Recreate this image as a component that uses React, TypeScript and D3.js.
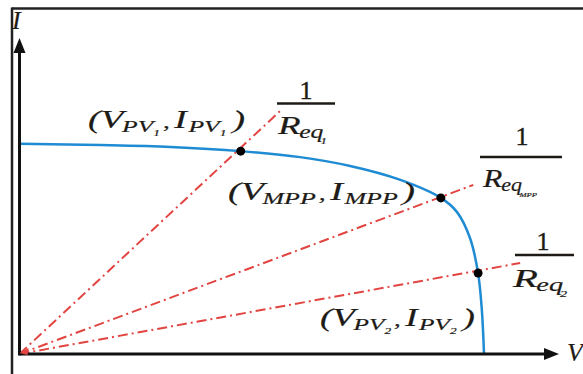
import * as d3 from "d3";

const W = 583;
const H = 374;

// I-V curve of the PV panel (V and I in % of axis length)
const V_CURVE = [0, 15, 28, 41, 52, 61.3, 70.6, 78.1, 81.1, 83.5, 85, 85.7, 86.1];
const I_CURVE = [66.5, 66.1, 65.5, 64.2, 62.3, 59.5, 55.1, 49.4, 44.9, 36.7, 25.6, 13.9, 0];

// operating points (PV1, MPP, PV2)
const V_OP = [41, 78.1, 85];
const I_OP = [64.2, 49.4, 25.6];

// load lines 1/Req, drawn from origin to these ends
const V_LOAD_END = [48.5, 84.1, 92.8];
const I_LOAD_END = [77.2, 53.5, 28.8];

// text run: size, baseline offset, extra space before
type Seg = { t: string; s: number; b?: number; dx?: number };

const FONT = "Liberation Serif, Times New Roman, Times, DejaVu Serif, serif";
const INK = "#1e1b17";

function MathText({ x, y, segs, len }: {
  x: number; y: number; segs: Seg[]; len?: number;
}) {
  let prev = 0;
  return (
    <text
      x={x}
      y={y}
      fill={INK}
      stroke={INK}
      strokeWidth={0.2}
      textLength={len}
      lengthAdjust={len ? "spacingAndGlyphs" : undefined}
      style={{ fontFamily: FONT, fontStyle: "italic" }}
    >
      {segs.map((s, i) => {
        const b = s.b ?? 0;
        const dy = b - prev;
        prev = b;
        return (
          <tspan key={i} dy={dy} dx={s.dx ?? 0} fontSize={s.s}>
            {s.t}
          </tspan>
        );
      })}
    </text>
  );
}

const pvSegs = (n: string): Seg[] => [
  { t: "(", s: 25 },
  { t: "V", s: 25 },
  { t: "PV", s: 17, b: 4, dx: -1 },
  { t: n, s: 9, b: 8 },
  { t: ",", s: 18, dx: 2 },
  { t: "I", s: 25, dx: 3 },
  { t: "PV", s: 17, b: 4, dx: 1 },
  { t: n, s: 9, b: 8 },
  { t: ")", s: 25, dx: 4 },
];

const mppSegs: Seg[] = [
  { t: "(", s: 25 },
  { t: "V", s: 25 },
  { t: "MPP", s: 17, b: 4, dx: -1 },
  { t: ",", s: 18, dx: 2 },
  { t: "I", s: 25, dx: 3 },
  { t: "MPP", s: 17, b: 4, dx: 1 },
  { t: ")", s: 25, dx: 3 },
];

function Fraction({ cx, x1, x2, barY, oneY, rx, ry, sub, subSize, subDy, len }: {
  cx: number; x1: number; x2: number; barY: number; oneY: number;
  rx: number; ry: number; sub: string; subSize: number; subDy: number; len: number;
}) {
  return (
    <g fill={INK} style={{ fontFamily: FONT }}>
      <text x={cx} y={oneY} fontSize={26} stroke={INK} strokeWidth={0.4} textAnchor="middle">1</text>
      <line x1={x1} x2={x2} y1={barY} y2={barY} stroke={INK} strokeWidth={2.5} />
      <MathText
        x={rx}
        y={ry}
        len={len}
        segs={[
          { t: "R", s: 26 },
          { t: "eq", s: 18, b: 4, dx: -1 },
          { t: sub, s: subSize, b: 4 + subDy, dx: -2 },
        ]}
      />
    </g>
  );
}

export default function App() {
  const x = d3.scaleLinear().domain([0, 100]).range([19.5, 559]);
  const y = d3.scaleLinear().domain([0, 100]).range([354, 38]);

  const curve = d3
    .line<number>()
    .x((_, i) => x(V_CURVE[i]))
    .y((d) => y(d))
    .curve(d3.curveCatmullRom.alpha(0.5));

  const x0 = x(0);
  const y0 = y(0);
  const xEnd = x(100);
  const yEnd = y(100);

  return (
    <svg
      width={W}
      height={H}
      style={{ position: "absolute", left: 0, top: 0, background: "#fff" }}
    >
      {/* frame */}
      <line x1={12} x2={W} y1={8.5} y2={8.5} stroke="#222" strokeWidth={2.5} />
      <line x1={12} x2={12} y1={7.5} y2={H} stroke="#222" strokeWidth={2.5} />

      {/* load lines */}
      {V_LOAD_END.map((v, i) => (
        <line
          key={i}
          x1={x0}
          y1={y0}
          x2={x(v)}
          y2={y(I_LOAD_END[i])}
          stroke="#e24541"
          strokeWidth={2}
          strokeDasharray="10,4,2,4"
        />
      ))}

      {/* I-V curve */}
      <path d={curve(I_CURVE) ?? ""} fill="none" stroke="#1f8bd3" strokeWidth={2.5} />

      {/* axes */}
      <line x1={x0} x2={xEnd - 12} y1={y0} y2={y0} stroke="#111" strokeWidth={3} />
      <path d={`M${xEnd},${y0} L${xEnd - 15},${y0 - 6} L${xEnd - 15},${y0 + 6} Z`} fill="#111" />
      <line x1={x0} x2={x0} y1={y0 + 1.5} y2={yEnd + 12} stroke="#111" strokeWidth={3} />
      <path d={`M${x0},${yEnd} L${x0 - 6},${yEnd + 15} L${x0 + 6},${yEnd + 15} Z`} fill="#111" />
      <path d={`M${x0},${y0 - 1} l9,-5 l-1,7 Z`} fill="#e24541" />

      {/* operating points */}
      {V_OP.map((v, i) => (
        <circle key={i} cx={x(v)} cy={y(I_OP[i])} r={4.5} fill="#000" />
      ))}

      {/* axis letters */}
      <MathText x={12} y={29} segs={[{ t: "I", s: 26 }]} />
      <MathText x={567} y={361} segs={[{ t: "V", s: 26 }]} />

      {/* point labels */}
      <MathText x={88} y={128} len={157} segs={pvSegs("1")} />
      <MathText x={228} y={200} len={187} segs={mppSegs} />
      <MathText x={320} y={326} len={155} segs={pvSegs("2")} />

      {/* 1/Req labels */}
      <Fraction cx={306} x1={277} x2={335} barY={103.5} oneY={99} rx={278} ry={134} len={49} sub="1" subSize={9} subDy={6} />
      <Fraction cx={522} x1={480} x2={562} barY={157} oneY={145} rx={483} ry={187} len={54} sub="MPP" subSize={7} subDy={6} />
      <Fraction cx={543} x1={515} x2={574} barY={255} oneY={250} rx={513} ry={287} len={54} sub="2" subSize={9} subDy={6} />
    </svg>
  );
}
